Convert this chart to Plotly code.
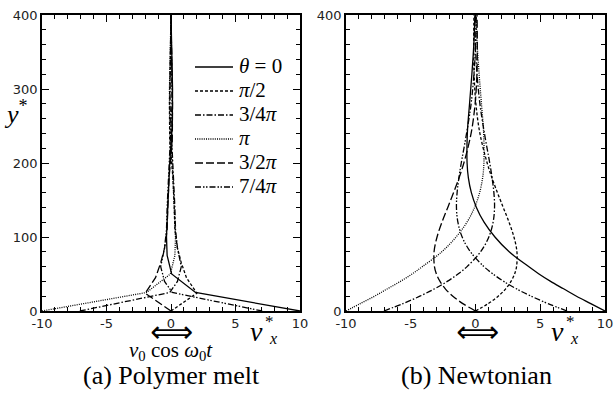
import plotly.graph_objects as go

# ---------------- data ----------------
LABELS = ["<i>θ</i> = 0", "<i>π</i>/2", "3/4<i>π</i>", "<i>π</i>", "3/2<i>π</i>", "7/4<i>π</i>"]
DASHES = ["solid", "3px,2px", "6px,2px,1.5px,2px", "1px,1.2px", "8px,3px", "6px,2px,1.5px,1.5px,1.5px,2px"]

# (a) Polymer melt
MELT_Y0 = [0, 25, 50, 75, 100, 130, 160, 200, 250, 300, 350, 400]
MELT_X0 = [10, 1.9, 0.05, -0.3, -0.35, -0.25, -0.2, -0.1, 0.1, 0.12, 0.05, 0.0]
MELT_Y1 = [0, 24, 45, 65, 85, 110, 140, 180, 230, 280, 340, 400]
MELT_X1 = [0, 2.0, 1.2, 0.8, 0.5, 0.3, 0.25, 0.15, -0.1, -0.12, -0.05, 0.0]
MELT_Y2 = [0, 19, 25, 40, 60, 85, 110, 140, 180, 230, 280, 340, 400]
MELT_X2 = [-7.07, -1.7, -0.1, 0.5, 0.8, 0.5, 0.35, 0.3, 0.2, 0.1, -0.08, -0.05, 0.0]
MELT_Y3 = [0, 25, 50, 75, 100, 130, 160, 200, 250, 300, 350, 400]
MELT_X3 = [-10, -1.9, -0.05, 0.3, 0.35, 0.25, 0.2, 0.1, -0.1, -0.12, -0.05, 0.0]
MELT_Y4 = [0, 24, 45, 65, 85, 110, 140, 180, 230, 280, 340, 400]
MELT_X4 = [0, -2.0, -1.2, -0.8, -0.5, -0.3, -0.25, -0.15, 0.1, 0.12, 0.05, 0.0]
MELT_Y5 = [0, 19, 25, 40, 60, 85, 110, 140, 180, 230, 280, 340, 400]
MELT_X5 = [7.07, 1.7, 0.1, -0.5, -0.8, -0.5, -0.35, -0.3, -0.2, -0.1, 0.08, 0.05, 0.0]

# (b) Newtonian
NEWT_Y = [0, 10, 20, 30, 40, 50, 60, 80, 100, 120, 140, 160, 180, 200, 240, 280, 320, 360, 400]
NEWT_X0 = [10, 8.9, 7.8, 6.8, 5.8, 4.9, 4.1, 2.6, 1.5, 0.66, 0.07, -0.32, -0.55, -0.65, -0.63, -0.46, -0.28, -0.13, -0.04]
NEWT_X1 = [0, 0.98, 1.75, 2.33, 2.74, 3.02, 3.17, 3.2, 2.97, 2.59, 2.14, 1.69, 1.27, 0.9, 0.34, 0.03, -0.11, -0.14, -0.12]
NEWT_X2 = [-7.07, -5.6, -4.3, -3.16, -2.18, -1.35, -0.65, 0.39, 1.03, 1.36, 1.47, 1.42, 1.28, 1.1, 0.69, 0.34, 0.12, -0.01, -0.06]
NEWT_X3 = [-10, -8.9, -7.8, -6.8, -5.8, -4.9, -4.1, -2.6, -1.5, -0.66, -0.07, 0.32, 0.55, 0.65, 0.63, 0.46, 0.28, 0.13, 0.04]
NEWT_X4 = [0, -0.98, -1.75, -2.33, -2.74, -3.02, -3.17, -3.2, -2.97, -2.59, -2.14, -1.69, -1.27, -0.9, -0.34, -0.03, 0.11, 0.14, 0.12]
NEWT_X5 = [7.07, 5.6, 4.3, 3.16, 2.18, 1.35, 0.65, -0.39, -1.03, -1.36, -1.47, -1.42, -1.28, -1.1, -0.69, -0.34, -0.12, 0.01, 0.06]

X_TICKS = [-10, -5, 0, 5, 10]
X_TICKTEXT = ["-10", "-5", "0", "5", "10"]
Y_TICKS_A = [0, 100, 200, 300, 400]
Y_TICKS_B = [0, 400]

# ---------------- figure ----------------
melt_x = [MELT_X0, MELT_X1, MELT_X2, MELT_X3, MELT_X4, MELT_X5]
melt_y = [MELT_Y0, MELT_Y1, MELT_Y2, MELT_Y3, MELT_Y4, MELT_Y5]
newt_x = [NEWT_X0, NEWT_X1, NEWT_X2, NEWT_X3, NEWT_X4, NEWT_X5]

fig = go.Figure()
for i in range(6):
    fig.add_trace(go.Scatter(x=melt_x[i], y=melt_y[i], mode="lines", name=LABELS[i],
                             line=dict(color="black", width=1.3, dash=DASHES[i]),
                             xaxis="x", yaxis="y", showlegend=False))
for i in range(6):
    fig.add_trace(go.Scatter(x=newt_x[i], y=NEWT_Y, mode="lines", name=LABELS[i],
                             line=dict(color="black", width=1.3, dash=DASHES[i], shape="spline"),
                             xaxis="x2", yaxis="y2", showlegend=False))

W, H = 614, 393
ML, MR, MT, MB = 42, 9, 15, 82
PW = W - ML - MR
PH = H - MT - MB


def px(xp):
    return (xp - ML) / PW


def py(yp):
    return (H - MB - yp) / PH


tickfont = dict(family="DejaVu Sans", size=13, color="#222")
axis_common = dict(showgrid=False, zeroline=False, showline=True, linecolor="black", linewidth=1.6,
                   mirror="ticks", ticks="inside", ticklen=7, tickwidth=1.3, tickcolor="black",
                   tickfont=tickfont, automargin=False)
xcommon = dict(axis_common, range=[-10, 10], tickvals=X_TICKS, ticktext=X_TICKTEXT,
               minor=dict(ticks="inside", dtick=1, ticklen=4, tickwidth=1.1, tickcolor="black"))

fig.update_layout(
    width=W, height=H,
    margin=dict(l=ML, r=MR, t=MT, b=MB, autoexpand=False),
    plot_bgcolor="white", paper_bgcolor="white",
    xaxis=dict(xcommon, domain=[0, px(300)], anchor="y"),
    yaxis=dict(axis_common, range=[0, 400], tickvals=Y_TICKS_A, domain=[0, 1], anchor="x",
               minor=dict(ticks="inside", dtick=20, ticklen=4, tickwidth=1.1, tickcolor="black")),
    xaxis2=dict(xcommon, domain=[px(346), 1], anchor="y2"),
    yaxis2=dict(axis_common, range=[0, 400], tickvals=Y_TICKS_B, domain=[0, 1], anchor="x2",
                minor=dict(ticks="inside", dtick=20, ticklen=4, tickwidth=1.1, tickcolor="black")),
    showlegend=False,
)

serif = "Liberation Serif"
ann = []
shapes = []

# manual legend inside panel (a)
LEG_Y = [67, 91, 115, 139, 163, 187]
for i in range(6):
    shapes.append(dict(type="line", xref="paper", yref="paper",
                       x0=px(195), x1=px(233), y0=py(LEG_Y[i]), y1=py(LEG_Y[i]),
                       line=dict(color="black", width=1.3, dash=DASHES[i])))
    ann.append(dict(x=px(237), y=py(LEG_Y[i] - 1), text=LABELS[i], xanchor="left",
                    font=dict(family=serif, size=21)))

ann += [
    dict(x=px(16), y=py(112), text="<i>y</i><sup>*</sup>", font=dict(family=serif, size=26)),
    dict(x=px(256), y=py(331), text="<i>v</i>", font=dict(family=serif, size=28)),
    dict(x=px(269), y=py(321), text="*", font=dict(family=serif, size=17)),
    dict(x=px(273), y=py(338), text="<i>x</i>", font=dict(family=serif, size=16)),
    dict(x=px(557), y=py(331), text="<i>v</i>", font=dict(family=serif, size=28)),
    dict(x=px(570), y=py(321), text="*", font=dict(family=serif, size=17)),
    dict(x=px(574), y=py(338), text="<i>x</i>", font=dict(family=serif, size=16)),
    dict(x=px(171), y=py(331), text="⟺", font=dict(family="DejaVu Sans", size=30)),
    dict(x=px(477), y=py(331), text="⟺", font=dict(family="DejaVu Sans", size=30)),
    dict(x=px(171), y=py(351), text="<i>v</i><sub>0</sub> cos <i>ω</i><sub>0</sub><i>t</i>",
         font=dict(family=serif, size=21)),
    dict(x=px(171), y=py(375), text="(a) Polymer melt", font=dict(family=serif, size=26)),
    dict(x=px(476), y=py(375), text="(b) Newtonian", font=dict(family=serif, size=26)),
]
for a in ann:
    a.update(xref="paper", yref="paper", showarrow=False, yanchor="middle")
    a.setdefault("xanchor", "center")
    a["font"].setdefault("color", "black")
fig.update_layout(annotations=ann, shapes=shapes)

POST = ("document.documentElement.style.margin='0px';document.body.style.margin='0px';"
        "document.documentElement.style.overflow='hidden';document.body.style.overflow='hidden';")
fig.write_html("out.html", post_script=POST, config={"displayModeBar": False})
